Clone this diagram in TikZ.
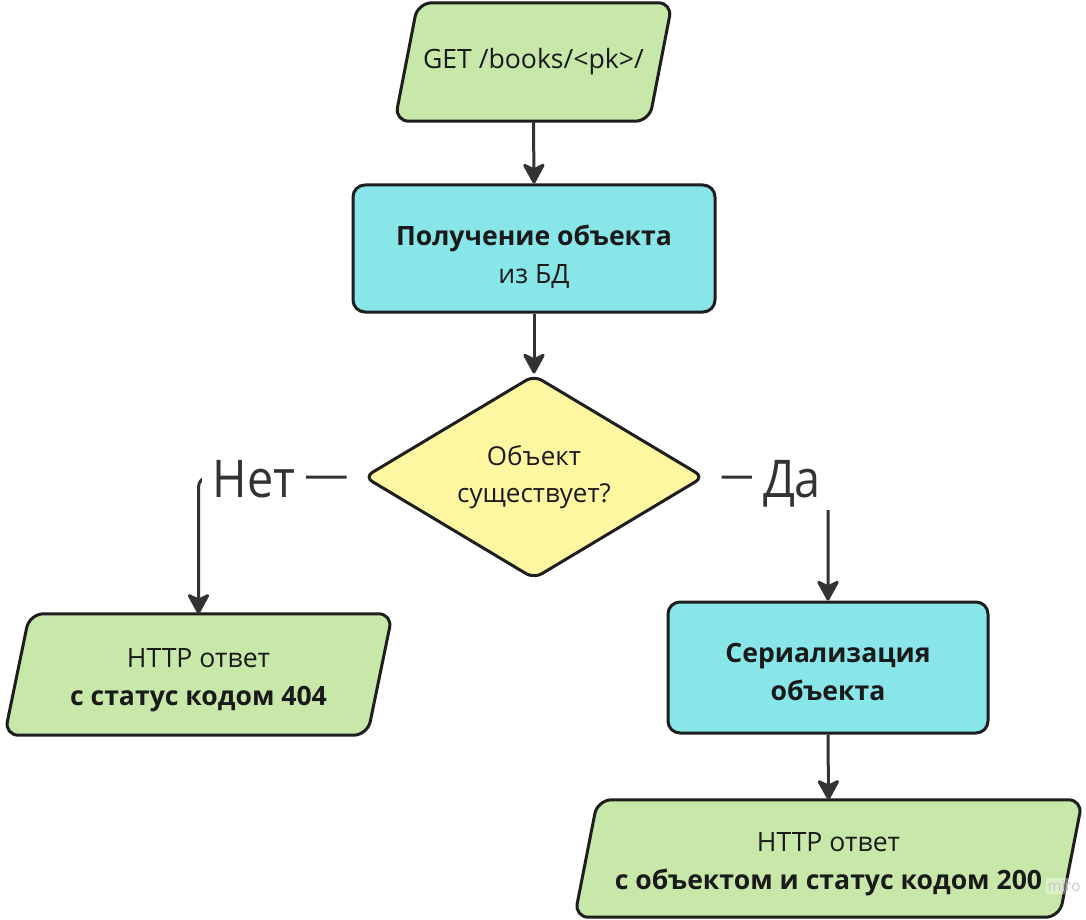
\documentclass[tikz,border=0pt]{standalone}
\usepackage{fontspec}
\setmainfont{Open Sans}
\newfontfamily\lblfont{Open Sans}[FakeStretch=0.9]
\usetikzlibrary{shapes.geometric,arrows.meta,backgrounds}
\definecolor{strk}{HTML}{1E1E1E}
\definecolor{arrc}{HTML}{333333}
\definecolor{grn}{HTML}{C7E8A8}
\definecolor{cyn}{HTML}{88E5E8}
\definecolor{ylw}{HTML}{FFF6A1}
\definecolor{txt}{HTML}{1A1A1A}
\tikzset{
  shp/.style={draw=strk, line width=3pt, line join=round},
  boxtxt/.style={align=center, text=txt, inner sep=0pt, font=\fontsize{26.6}{38}\selectfont},
  parabox/.style={boxtxt, rectangle},
  procbox/.style={boxtxt, shp, rectangle, rounded corners=12pt, fill=cyn},
  decbox/.style={align=center, text=txt, inner sep=0pt, shp, diamond, aspect=1.7, rounded corners=9pt, fill=ylw, font=\fontsize{26}{37}\selectfont},
  parashape/.style={shp, rounded corners=14pt},
  arr/.style={draw=arrc, line width=3pt, -{Stealth[length=23pt, width=25pt, inset=6pt, round]}},
  lbl/.style={fill=white, text=arrc, inner xsep=11pt, inner ysep=3pt, font=\lblfont\fontsize{52}{60}\selectfont},
}
\newcommand\mkpara[3]{%
  \draw[parashape, fill=#3] ([xshift=#2pt]#1.north west) -- ([xshift=#2pt]#1.north east)
    -- ([xshift=-#2pt]#1.south east) -- ([xshift=-#2pt]#1.south west) -- cycle;}
\begin{document}
\begin{tikzpicture}[x=1pt, y=-1pt]
\useasboundingbox (0,0) rectangle (1086,920);
% nodes
\node[parabox, minimum width=254pt, minimum height=118pt] (get) at (533.5,62) {GET /books/<pk>/};
\node[procbox, minimum width=362pt, minimum height=127pt, text height=74pt] (obj) at (534,248.5)
  {\textbf{Получение объекта}\\из БД};
\node[decbox, minimum width=340pt, minimum height=204pt] (q) at (534,477)
  {Объект\\существует?};
\node[parabox, minimum width=362.5pt, minimum height=121pt, text height=68pt] (nf) at (198.5,674.5)
  {HTTP ответ\\\textbf{с статус кодом 404}};
\node[procbox, minimum width=320pt, minimum height=131pt, text height=66pt] (ser) at (828,667.5)
  {\textbf{Сериализация}\\\textbf{объекта}};
\node[parabox, minimum width=484.5pt, minimum height=117pt, text height=68pt] (ok) at (828.5,858.5)
  {HTTP ответ\\\textbf{с объектом и статус кодом 200}};
\coordinate (qw) at ([xshift=-16pt]q.west);
\coordinate (qe) at ([xshift=16pt]q.east);
% parallelogram outlines
\begin{scope}[on background layer]
  \fill[white] (0,0) rectangle (1086,920);
  \mkpara{get}{11.5}{grn}
  \mkpara{nf}{12.5}{grn}
  \mkpara{ok}{11.5}{grn}
\end{scope}
% connectors
\draw[arr] (get.south) -- (obj.north);
\draw[arr] (obj.south) -- (q.north);
\draw[arr, rounded corners=10pt] (qw) -| (nf.north);
\draw[arr, rounded corners=10pt] (qe) -| (ser.north);
\draw[arr] (ser.south) -- (ok.north);
% labels
\node[lbl, anchor=base] (no) at (254,497) {Нет};
\node[lbl, anchor=base] (yes) at (792,497) {Да};
% watermark
\node[text=black!22, fill=white, fill opacity=0.35, text opacity=1, inner sep=2pt, font=\fontsize{15}{18}\selectfont] (wm) at (1064,886) {miro};
\end{tikzpicture}
\end{document}
